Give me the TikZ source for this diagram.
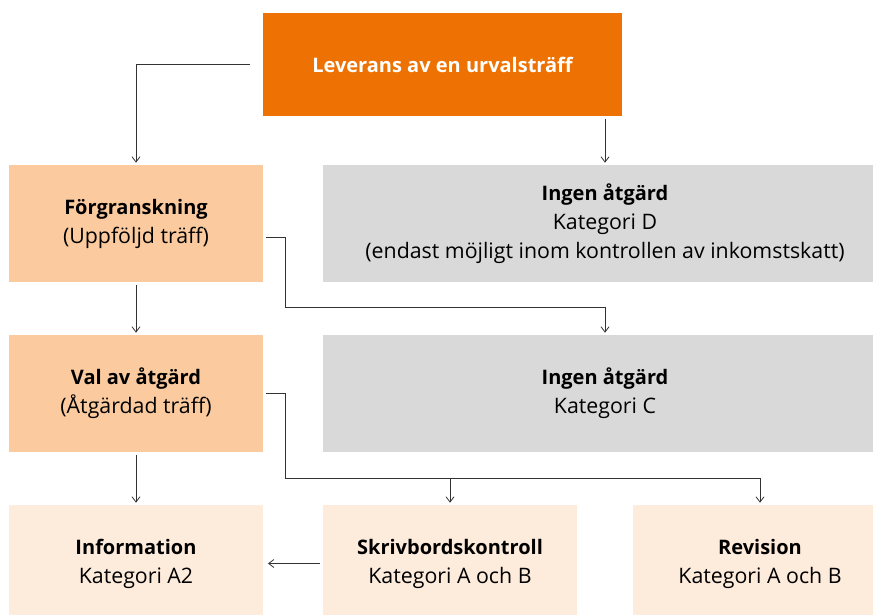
\documentclass[tikz,border=0pt]{standalone}
\usepackage{fontspec}
\setmainfont{Open Sans}
\usetikzlibrary{arrows.meta}
\definecolor{levorange}{HTML}{EE7203}
\definecolor{steppeach}{HTML}{FBCB9F}
\definecolor{outpeach}{HTML}{FDEBDC}
\definecolor{nogray}{HTML}{D9D9D9}
\definecolor{linegray}{HTML}{333333}
\newcommand\boxhead[1]{{\fontsize{15}{21.75}\selectfont\bfseries #1}}

\begin{document}
\begin{tikzpicture}[x=0.75pt,y=-0.75pt,
    box/.style={inner sep=0pt, align=center, minimum width=190.5pt,
                minimum height=87.75pt, font=\fontsize{16}{21.75}\selectfont},
    stepbox/.style={box, fill=steppeach},
    nobox/.style={box, fill=nogray, minimum width=423pt},
    outbox/.style={box, fill=outpeach},
    conn/.style={draw=linegray, line width=0.6pt,
                 -{Straight Barb[length=4pt,width=6pt]},
                 shorten >=1.5pt, shorten <=2pt}]
        \clip (0,0) rectangle (873,614);                                  %page
        \node[box, fill=levorange, text=white, minimum width=269.25pt,
              minimum height=77.25pt]
              (lev) at (442.5,64.5) {\boxhead{Leverans av en urvalsträff}}; %start
        \node[stepbox] (forg)  at (136,223.5) {\boxhead{Förgranskning}\\(Uppföljd träff)};
        \node[nobox]   (ingD)  at (605,223.5) {\boxhead{Ingen åtgärd}\\Kategori D\\(endast möjligt inom kontrollen av inkomstskatt)};
        \node[stepbox] (val)   at (136,393.5) {\boxhead{Val av åtgärd}\\(Åtgärdad träff)};
        \node[nobox]   (ingC)  at (605,393.5) {\boxhead{Ingen åtgärd}\\Kategori C};
        \node[outbox]  (info)  at (136,563.5) {\boxhead{Information}\\Kategori A2};
        \node[outbox]  (skriv) at (450,563.5) {\boxhead{Skrivbordskontroll}\\Kategori A och B};
        \node[outbox]  (rev)   at (760,563.5) {\boxhead{Revision}\\Kategori A och B};

        \draw[conn, shorten <=9.75pt] (lev.west) -| (forg.north);         %
        \draw[conn] (lev.south -| ingD.north) -- (ingD.north);            %
        \draw[conn] ([yshift=-10.5pt]forg.east) -- ++(22,0) -- ++(0,70)
                    -| (ingC.north);                                      %
        \draw[conn] (forg.south) -- (val.north);                          %
        \draw[conn] (val.east) -- ++(22,0) -- ++(0,85) coordinate (vbus)
                    -| (rev.north);                                       %
        \draw[conn, shorten <=0pt] (vbus -| skriv.north) -- (skriv.north);%
        \draw[conn] (val.south) -- (info.north);                          %
        \draw[conn, shorten <=2.25pt, shorten >=3.5pt] (skriv.west) -- (info.east);
\end{tikzpicture}
\end{document}
